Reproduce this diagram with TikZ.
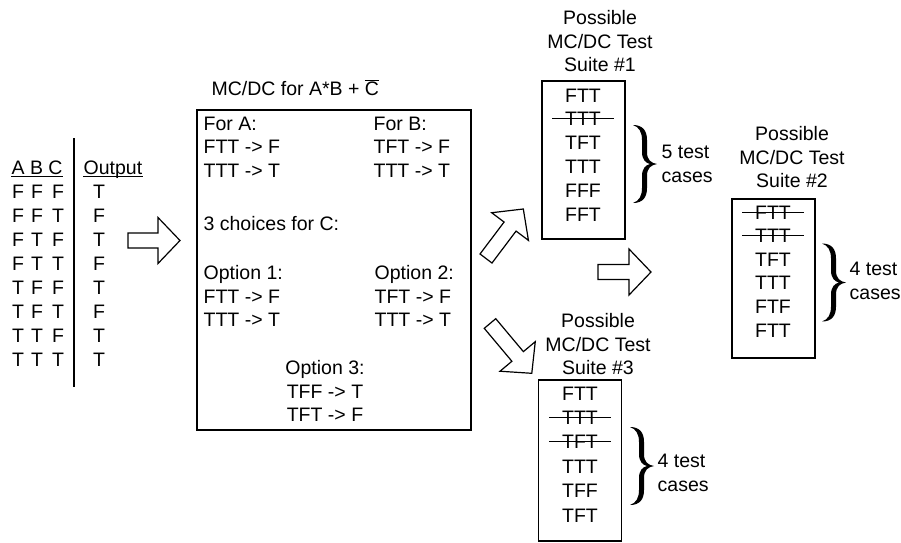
\documentclass[tikz,border=0pt]{standalone}
\usepackage{fontspec}
\setmainfont{Liberation Sans}
\usetikzlibrary{calc}

\tikzset{
  txt/.style={inner sep=0pt, text height=14pt, text depth=0pt},
  lines/.style={inner sep=0pt, align=left},
  suitebox/.style={draw, minimum width=83pt, inner sep=0pt},
  strike/.style={line width=1pt},
  pics/hollowarrow/.style={code={
    \draw[line width=1.2pt, fill=white] (0,-7.5) -- ({#1-22},-7.5) -- ({#1-22},-23)
      -- (#1,0) -- ({#1-22},23) -- ({#1-22},7.5) -- (0,7.5) -- cycle;
  }},
  pics/curly/.style={code={
    \fill (0,39) .. controls (10,39) and (14,33) .. (14,24) -- (14,12)
      .. controls (14,4) and (18,1) .. (24,0) .. controls (18,-1) and (14,-4) .. (14,-12)
      -- (14,-24) .. controls (14,-33) and (10,-39) .. (0,-39)
      .. controls (6,-37) and (9,-32) .. (9,-24) -- (9,-12)
      .. controls (9,-4) and (13,-1) .. (17,0) .. controls (13,1) and (9,4) .. (9,12)
      -- (9,24) .. controls (9,32) and (6,37) .. (0,39) -- cycle;
  }}
}

\begin{document}
\begin{tikzpicture}[x=1pt, y=-1pt, line width=1.3pt, font=\fontsize{19.5}{23.5}\selectfont]
  \useasboundingbox (0,0) rectangle (901,542);

  % ---------- truth table ----------
  \node[txt, anchor=west] (hdr) at (11,167) {A B C};
  \node[txt, anchor=west] (hout) at (83,167) {Output};
  \draw[line width=1pt] ([yshift=-2pt]hdr.south west) -- ([yshift=-2pt]hdr.south east);
  \draw[line width=1pt] ([yshift=-2pt]hout.south west) -- ([yshift=-2pt]hout.south east);
  \coordinate (bartop) at (74,138);
  \coordinate (barbot) at (74,387);
  \draw (bartop) -- (barbot);
  \foreach \a/\b/\c/\o [count=\i] in {F/F/F/T, F/F/T/F, F/T/F/T, F/T/T/F, T/F/F/T, T/F/T/F, T/T/F/T, T/T/T/T} {
    \node[txt] (ta\i) at (18,{191+24*(\i-1)}) {\a};
    \node[txt] (tb\i) at (37,{191+24*(\i-1)}) {\b};
    \node[txt] (tc\i) at (58,{191+24*(\i-1)}) {\c};
    \node[txt] (to\i) at (99,{191+24*(\i-1)}) {\o};
  }

  % ---------- big arrows ----------
  \pic (arrowin) at (128,240.5) {hollowarrow=52};
  \pic[rotate=53] (arrowup) at (486,258.5) {hollowarrow=62};
  \pic[rotate=-50] (arrowdown) at (490,323.5) {hollowarrow=65};
  \pic (arrowright) at (598,272) {hollowarrow=53};

  % ---------- MC/DC box ----------
  \node[txt, anchor=west] (mcdctitle) at (211,88) {MC/DC for A*B + $\overline{\mbox{C}}$};
  \node[draw, minimum width=274pt, minimum height=320pt] (mcdc) at (334,270) {};
  \node[lines, anchor=north west] (fora) at (203,116) {For A:\\FTT -> F\\TTT -> T};
  \node[lines, anchor=north west] (forb) at (373,116) {For B:\\TFT -> F\\TTT -> T};
  \node[txt, anchor=west] (choices) at (203,223) {3 choices for C:};
  \node[lines, anchor=north west] (opt1) at (203,265) {Option 1:\\FTT -> F\\TTT -> T};
  \node[lines, anchor=north west] (opt2) at (374,265) {Option 2:\\TFT -> F\\TTT -> T};
  \node[lines, align=center, anchor=north] (opt3) at (325,360) {Option 3:\\TFF -> T\\TFT -> F};

  % ---------- suite #1 ----------
  \node[lines, align=center, anchor=north] (title1) at (600,10) {Possible\\MC/DC Test\\Suite \#1};
  \node[suitebox, minimum height=158pt] (suite1) at (583.5,160) {};
  \foreach \t [count=\i] in {FTT,TTT,TFT,TTT,FFF,FFT}
    \node[txt] (sa\i) at (583,{95+23.8*(\i-1)}) {\t};
  \draw[strike] ([xshift=-12pt]sa2.west) -- ([xshift=12pt]sa2.east);
  \pic (brace1) at (633,164) {curly};
  \node[lines, anchor=west] (count1) at (661,164) {5 test\\cases};

  % ---------- suite #2 ----------
  \node[lines, align=center, anchor=north] (title2) at (792,126) {Possible\\MC/DC Test\\Suite \#2};
  \node[suitebox, minimum height=159pt] (suite2) at (773.5,278.5) {};
  \foreach \t [count=\i] in {FTT,TTT,TFT,TTT,FTF,FTT}
    \node[txt] (sb\i) at (773,{212+23.6*(\i-1)}) {\t};
  \foreach \i in {1,2}
    \draw[strike] ([xshift=-12pt]sb\i.west) -- ([xshift=12pt]sb\i.east);
  \pic (brace2) at (822,282.5) {curly};
  \node[lines, anchor=west] (count2) at (849,281) {4 test\\cases};

  % ---------- suite #3 ----------
  \node[lines, align=center, anchor=north] (title3) at (598,313) {Possible\\MC/DC Test\\Suite \#3};
  \node[suitebox, minimum height=161pt] (suite3) at (580,460.5) {};
  \foreach \t [count=\i] in {FTT,TTT,TFT,TTT,TFF,TFT}
    \node[txt] (sc\i) at (580,{393+24.4*(\i-1)}) {\t};
  \foreach \i in {2,3}
    \draw[strike] ([xshift=-12pt]sc\i.west) -- ([xshift=12pt]sc\i.east);
  \pic (brace3) at (630,466) {curly};
  \node[lines, anchor=west] (count3) at (657,473) {4 test\\cases};

\end{tikzpicture}
\end{document}
